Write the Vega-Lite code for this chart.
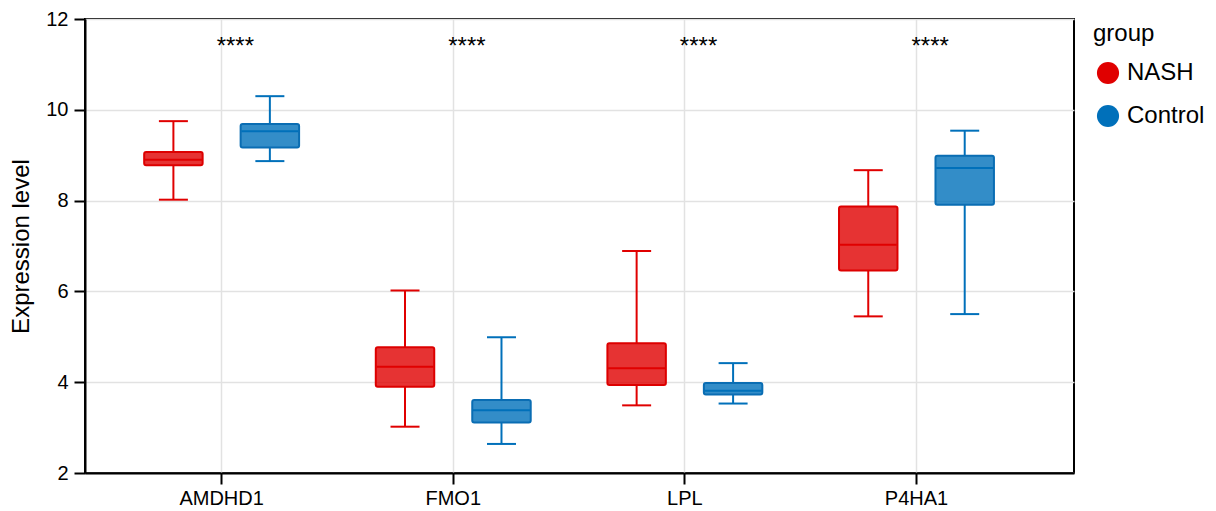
{
  "$schema": "https://vega.github.io/schema/vega-lite/v6.json",
  "autosize": {"type": "none"},
  "padding": {"left": 85, "top": 19, "right": 142, "bottom": 38},
  "width": 989,
  "height": 454,
  "config": {
    "font": "Liberation Sans",
    "view": {"stroke": "black", "strokeWidth": 2},
    "axis": {
      "domainColor": "black", "domainWidth": 2,
      "tickColor": "black", "tickWidth": 2, "tickSize": 11,
      "labelColor": "black", "labelFontSize": 20, "labelFont": "Liberation Sans",
      "titleColor": "black", "titleFontSize": 24, "titleFontWeight": "normal", "titleFont": "Liberation Sans",
      "gridColor": "#E2E2E2", "gridWidth": 1.5
    },
    "legend": {
      "titleFontSize": 24, "titleFontWeight": "normal", "titleColor": "black", "titleFont": "Liberation Sans",
      "labelFontSize": 24, "labelColor": "black", "labelFont": "Liberation Sans"
    }
  },
  "datasets": {
    "boxes": [
      {"gene": "AMDHD1", "group": "NASH", "lower": 8.02, "q1": 8.78, "median": 8.90, "q3": 9.07, "upper": 9.75},
      {"gene": "AMDHD1", "group": "Control", "lower": 8.87, "q1": 9.17, "median": 9.53, "q3": 9.685, "upper": 10.30},
      {"gene": "FMO1", "group": "NASH", "lower": 3.02, "q1": 3.90, "median": 4.34, "q3": 4.77, "upper": 6.02},
      {"gene": "FMO1", "group": "Control", "lower": 2.64, "q1": 3.11, "median": 3.38, "q3": 3.61, "upper": 4.99},
      {"gene": "LPL", "group": "NASH", "lower": 3.49, "q1": 3.94, "median": 4.31, "q3": 4.86, "upper": 6.89},
      {"gene": "LPL", "group": "Control", "lower": 3.53, "q1": 3.73, "median": 3.81, "q3": 3.98, "upper": 4.42},
      {"gene": "P4HA1", "group": "NASH", "lower": 5.45, "q1": 6.46, "median": 7.03, "q3": 7.87, "upper": 8.67},
      {"gene": "P4HA1", "group": "Control", "lower": 5.50, "q1": 7.91, "median": 8.72, "q3": 8.99, "upper": 9.54}
    ],
    "sig": [
      {"gene": "AMDHD1", "label": "****", "pos": 11.22},
      {"gene": "FMO1", "label": "****", "pos": 11.22},
      {"gene": "LPL", "label": "****", "pos": 11.22},
      {"gene": "P4HA1", "label": "****", "pos": 11.22}
    ]
  },
  "data": {"name": "boxes"},
  "encoding": {
    "x": {
      "field": "gene", "type": "nominal",
      "scale": {"domain": ["AMDHD1", "FMO1", "LPL", "P4HA1"], "paddingInner": 0, "paddingOuter": 0.135, "align": 0.333},
      "axis": {"title": null, "labelAngle": 0, "labelPadding": 4, "grid": true}
    },
    "xOffset": {
      "field": "group", "type": "nominal",
      "scale": {"domain": ["NASH", "Control"], "paddingInner": 0.394, "paddingOuter": 0.3975}
    },
    "color": {
      "field": "group", "type": "nominal",
      "scale": {"domain": ["NASH", "Control"], "range": ["#E00000", "#0070BA"]},
      "legend": {
        "title": "group", "orient": "right", "offset": 16, "padding": 3,
        "symbolType": "circle", "symbolSize": 490, "symbolStrokeWidth": 0, "symbolOffset": 3,
        "labelOffset": 7, "rowPadding": 19, "titlePadding": 15,
        "encode": {"symbols": {"update": {"fill": {"scale": "color", "field": "value"}, "opacity": {"value": 1}, "fillOpacity": {"value": 1}, "stroke": {"value": "transparent"}}}}
      }
    }
  },
  "layer": [
    {
      "mark": {"type": "rule", "strokeWidth": 2},
      "encoding": {
        "y": {"field": "q3", "type": "quantitative", "scale": {"domain": [2, 12], "nice": false, "zero": false},
              "axis": {"title": "Expression level", "values": [2, 4, 6, 8, 10, 12], "labelPadding": 6, "titlePadding": 12, "grid": true}},
        "y2": {"field": "upper"}
      }
    },
    {
      "mark": {"type": "rule", "strokeWidth": 2},
      "encoding": {"y": {"field": "lower", "type": "quantitative"}, "y2": {"field": "q1"}}
    },
    {
      "mark": {"type": "tick", "size": 29, "thickness": 2, "opacity": 1},
      "encoding": {"y": {"field": "upper", "type": "quantitative"}}
    },
    {
      "mark": {"type": "tick", "size": 29, "thickness": 2, "opacity": 1},
      "encoding": {"y": {"field": "lower", "type": "quantitative"}}
    },
    {
      "mark": {"type": "bar", "fillOpacity": 0.8, "strokeWidth": 2, "cornerRadius": 2},
      "encoding": {
        "y": {"field": "q1", "type": "quantitative"},
        "y2": {"field": "q3"},
        "stroke": {"field": "group", "type": "nominal", "scale": {"domain": ["NASH", "Control"], "range": ["#DD0000", "#0A6DB3"]}, "legend": null}
      }
    },
    {
      "mark": {"type": "tick", "size": 57, "thickness": 2, "opacity": 1},
      "encoding": {"y": {"field": "median", "type": "quantitative"}, "color": {"field": "group", "type": "nominal", "scale": {"domain": ["NASH", "Control"], "range": ["#E00000", "#0070BA"]}, "legend": null}}
    },
    {
      "data": {"name": "sig"},
      "mark": {"type": "text", "fontSize": 24, "align": "left", "baseline": "alphabetic", "dx": -5, "color": "black", "font": "Liberation Sans"},
      "encoding": {
        "x": {"field": "gene", "type": "nominal"},
        "xOffset": null,
        "color": null,
        "y": {"field": "pos", "type": "quantitative"},
        "text": {"field": "label"}
      }
    }
  ]
}
